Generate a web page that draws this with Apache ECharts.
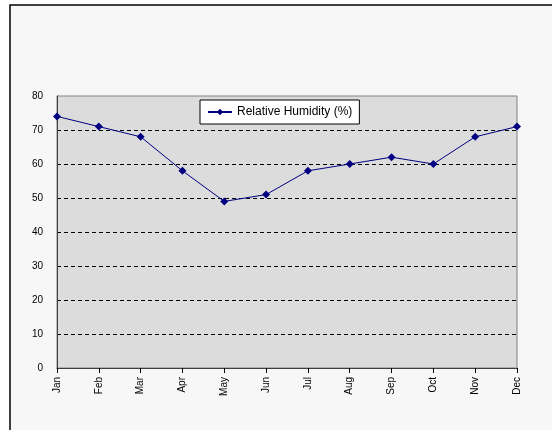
<!DOCTYPE html>
<html><head><meta charset="utf-8">
<script src="https://cdn.jsdelivr.net/npm/echarts@6/dist/echarts.min.js"></script>
<style>html,body{margin:0;padding:0;background:#fff;}#c{width:552px;height:430px;}</style>
</head><body><div id="c"></div>
<script>
const months = ['Jan','Feb','Mar','Apr','May','Jun','Jul','Aug','Sep','Oct','Nov','Dec'];
const humidity = [74, 71, 68, 58, 49, 51, 58, 60, 62, 60, 68, 71];
const seriesName = 'Relative Humidity (%)';

const chart = echarts.init(document.getElementById('c'), null, {renderer:'canvas'});
chart.setOption({
  animation: false,
  backgroundColor: '#fff',
  graphic: [{
    type: 'rect', z: -10, silent: true,
    shape: {x: 10, y: 5, width: 600, height: 500},
    style: {fill: '#f7f7f7', stroke: '#000', lineWidth: 1.5}
  }],
  grid: {left: 57, right: 35, top: 96, bottom: 62, show: true, backgroundColor: '#dcdcdc', borderColor: '#808080', borderWidth: 1},
  legend: {
    left: 200, top: 100,
    backgroundColor: '#fff', borderColor: '#000', borderWidth: 1,
    padding: [6, 7], itemWidth: 24, itemHeight: 8,
    textStyle: {fontFamily: 'Liberation Sans', fontSize: 12, color: '#000'},
    data: [seriesName]
  },
  xAxis: {
    type: 'category', data: months, boundaryGap: false,
    axisLine: {lineStyle: {color: '#404040'}},
    axisTick: {show: true, length: 5, lineStyle: {color: '#000'}, alignWithLabel: true},
    axisLabel: {rotate: 90, fontFamily: 'Liberation Sans', fontSize: 10, color: '#000', margin: 9},
    splitLine: {show: false}
  },
  yAxis: {
    type: 'value', min: 0, max: 80, interval: 10,
    axisLine: {show: true, lineStyle: {color: '#404040'}},
    axisTick: {show: false},
    axisLabel: {fontFamily: 'Liberation Sans', fontSize: 10, color: '#000', margin: 14},
    splitLine: {show: true, showMinLine: false, showMaxLine: false, lineStyle: {color: '#000', type: [4, 3], width: 1}}
  },
  series: [{
    name: seriesName, type: 'line', data: humidity,
    symbol: 'diamond', symbolSize: 8,
    itemStyle: {color: '#000080'},
    lineStyle: {color: '#000080', width: 1}
  }]
});
</script></body></html>
